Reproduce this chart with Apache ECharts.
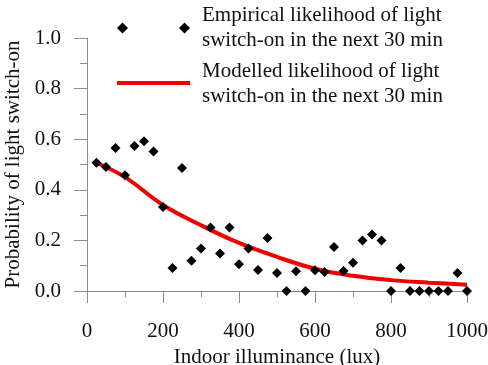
<!DOCTYPE html>
<html>
<head>
<meta charset="utf-8">
<script src="https://cdn.jsdelivr.net/npm/echarts@6/dist/echarts.min.js"></script>
<style>
  html, body { margin: 0; padding: 0; background: #fff; }
  #chart { width: 488px; height: 365px; }
</style>
</head>
<body>
<div id="chart"></div>
<script>
// empirical points (lux, probability)
const illuminance = [25, 50, 75, 100, 125, 150, 175, 200, 225, 250,
  275, 300, 325, 350, 375, 400, 425, 450, 475, 500,
  525, 550, 575, 600, 625, 650, 675, 700, 725, 750,
  775, 800, 825, 850, 875, 900, 925, 950, 975, 1000];
const empirical = [0.507, 0.490, 0.565, 0.458, 0.573, 0.592, 0.551, 0.332, 0.091, 0.486,
  0.120, 0.168, 0.251, 0.148, 0.251, 0.106, 0.168, 0.083, 0.209, 0.071,
  0, 0.078, 0, 0.082, 0.075, 0.174, 0.079, 0.112, 0.200, 0.223,
  0.200, 0, 0.091, 0, 0, 0, 0, 0, 0.071, 0];

// modelled curve
const modelLux = [25, 100, 200, 300, 400, 500, 600, 700, 800, 900, 1000];
const modelProb = [0.507, 0.450, 0.340, 0.260, 0.190, 0.135, 0.088, 0.060, 0.043, 0.033, 0.025];

// axis ticks
const xTicks = [0, 200, 400, 600, 800, 1000];
const yTicks = [0.0, 0.2, 0.4, 0.6, 0.8, 1.0];

const empiricalName = 'Empirical likelihood of light\nswitch-on in the next 30 min';
const modelName = 'Modelled likelihood of light\nswitch-on in the next 30 min';

const font = 'Liberation Serif';
const axisGrey = '#8c8c8c';
const red = '#f00000';

const chart = echarts.init(document.getElementById('chart'));

chart.setOption({
  animation: false,
  backgroundColor: '#fff',
  textStyle: { fontFamily: font, color: '#111' },
  // fixed plot box, no auto shrinking for labels
  grid: { left: 87, top: 38, width: 380, height: 253, containLabel: false, outerBoundsMode: 'none' },
  legend: {
    orient: 'vertical',
    left: 117,
    top: 3,
    padding: 0,
    itemGap: 6,
    itemWidth: 73,
    itemHeight: 11,
    textStyle: { fontFamily: font, fontSize: 21, lineHeight: 25, color: '#111', padding: [0, 0, 0, 7] },
    data: [
      // two diamonds, as in the original key
      { name: empiricalName, icon: 'path://M0,5.5L5.5,0L11,5.5L5.5,11Z M62,5.5L67.5,0L73,5.5L67.5,11Z' },
      // thick red bar; the bare moves keep the 73x11 box
      { name: modelName, icon: 'path://M0,0 M73,11 M0,2.5L73,2.5L73,6.5L0,6.5Z', itemStyle: { color: red } }
    ]
  },
  xAxis: {
    type: 'value',
    min: xTicks[0],
    max: xTicks[xTicks.length - 1],
    interval: xTicks[1] - xTicks[0],
    name: 'Indoor illuminance (lux)',
    nameLocation: 'middle',
    nameGap: 49,
    nameTextStyle: { fontFamily: font, fontSize: 21, color: '#111' },
    axisLine: { show: true, lineStyle: { color: axisGrey, width: 1 } },
    axisTick: { show: true, length: 12, lineStyle: { color: axisGrey } },
    minorTick: { show: true, splitNumber: 2, length: 6, lineStyle: { color: axisGrey } },
    splitLine: { show: false },
    axisLabel: {
      fontFamily: font, fontSize: 21, color: '#111', margin: 30,
      formatter: (v) => String(v)
    }
  },
  yAxis: {
    type: 'value',
    min: yTicks[0],
    max: yTicks[yTicks.length - 1],
    interval: 0.2,
    name: 'Probability of light switch-on',
    nameLocation: 'middle',
    nameGap: 52,
    nameTextStyle: { fontFamily: font, fontSize: 21, color: '#111' },
    axisLine: { show: true, lineStyle: { color: axisGrey, width: 1 } },
    axisTick: { show: true, length: 13, lineStyle: { color: axisGrey } },
    minorTick: { show: true, splitNumber: 2, length: 7, lineStyle: { color: axisGrey } },
    splitLine: { show: false },
    axisLabel: {
      fontFamily: font, fontSize: 21, color: '#111', margin: 26,
      formatter: (v) => v.toFixed(1)
    }
  },
  series: [
    {
      name: modelName,
      type: 'line',
      data: modelLux.map((x, i) => [x, modelProb[i]]),
      smooth: 0.4,
      symbol: 'none',
      lineStyle: { color: red, width: 4 },
      itemStyle: { color: red },
      z: 2
    },
    {
      name: empiricalName,
      type: 'scatter',
      data: illuminance.map((x, i) => [x, empirical[i]]),
      symbol: 'diamond',
      symbolSize: 10,
      itemStyle: { color: '#000', opacity: 1 },
      z: 3
    }
  ]
});
</script>
</body>
</html>
